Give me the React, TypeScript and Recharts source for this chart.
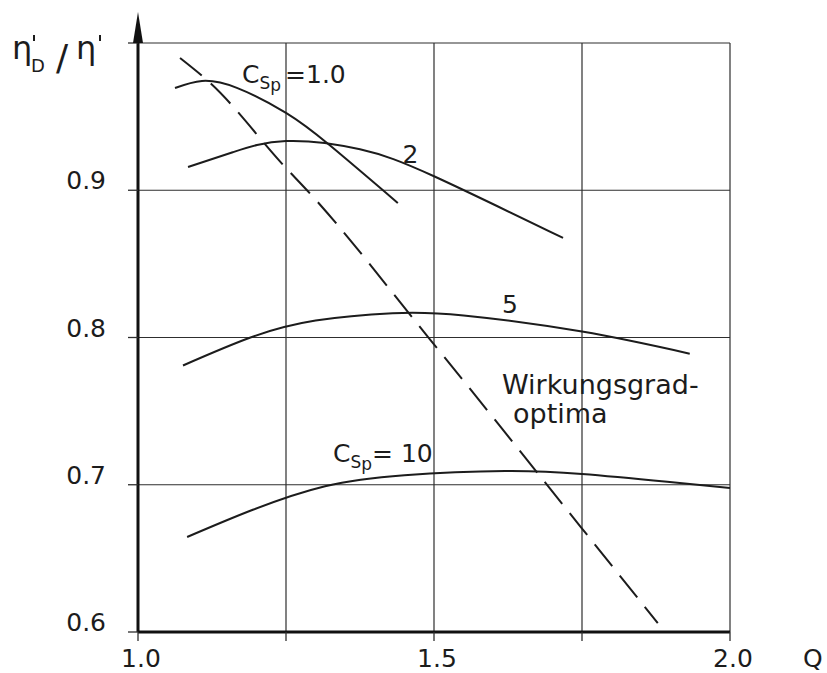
import React from 'react';
import { LineChart, Line, XAxis, YAxis, CartesianGrid, ReferenceDot } from 'recharts';

// Axis ticks
const qTicks = [1.0, 1.25, 1.5, 1.75, 2.0];
const qLabels = [1.0, 1.5, 2.0];
const etaTicks = [0.6, 0.7, 0.8, 0.9, 1.0];
const etaLabels = [0.6, 0.7, 0.8, 0.9];

// Efficiency ratio curves, one per c_Sp value
const csp1 = [
  { x: 1.0625, y: 0.9694 },
  { x: 1.108, y: 0.9742 },
  { x: 1.167, y: 0.9695 },
  { x: 1.25, y: 0.9525 },
  { x: 1.324, y: 0.9305 },
  { x: 1.439, y: 0.8913 },
];
const csp2 = [
  { x: 1.0845, y: 0.9158 },
  { x: 1.16, y: 0.9258 },
  { x: 1.25, y: 0.9334 },
  { x: 1.375, y: 0.9278 },
  { x: 1.5, y: 0.9095 },
  { x: 1.718, y: 0.8676 },
];
const csp5 = [
  { x: 1.076, y: 0.781 },
  { x: 1.19, y: 0.8 },
  { x: 1.3, y: 0.8115 },
  { x: 1.43, y: 0.8165 },
  { x: 1.55, y: 0.815 },
  { x: 1.75, y: 0.804 },
  { x: 1.932, y: 0.789 },
];
const csp10 = [
  { x: 1.083, y: 0.6645 },
  { x: 1.194, y: 0.683 },
  { x: 1.316, y: 0.699 },
  { x: 1.45, y: 0.7065 },
  { x: 1.62, y: 0.7093 },
  { x: 1.75, y: 0.7073 },
  { x: 1.894, y: 0.702 },
  { x: 2.0, y: 0.6978 },
];
// Locus of the efficiency optima (dashed)
const optima = [
  { x: 1.071, y: 0.9898 },
  { x: 1.122, y: 0.9728 },
  { x: 1.25, y: 0.9151 },
  { x: 1.2855, y: 0.9 },
  { x: 1.49, y: 0.8003 },
  { x: 1.748, y: 0.6713 },
  { x: 1.878, y: 0.6061 },
];

const FONT = 'DejaVu Sans';
const INK = '#1c1c1c';
const GRID = '#2e2e2e';

const QTick = (props: any) => {
  const { x, y, payload } = props;
  if (!qLabels.includes(payload.value)) return <g />;
  return (
    <text x={x + 3} y={y + 24} textAnchor="middle" fontFamily={FONT} fontSize={25} fill={INK}>
      {payload.value.toFixed(1)}
    </text>
  );
};

const EtaTick = (props: any) => {
  const { x, y, payload } = props;
  if (!etaLabels.includes(payload.value)) return <g />;
  return (
    <text x={x - 20} y={y - 1} textAnchor="end" fontFamily={FONT} fontSize={25} fill={INK}>
      {payload.value.toFixed(1)}
    </text>
  );
};

const EtaTitle = (props: any) => {
  const vb = props.viewBox || { x: 0, y: 43 };
  const x0 = vb.x + 12;
  const y0 = vb.y + 16;
  return (
    <g fontFamily={FONT} fill={INK}>
      <text x={x0} y={y0} fontSize={32}>η</text>
      <line x1={x0 + 22} y1={y0 - 24} x2={x0 + 22} y2={y0 - 18} stroke={INK} strokeWidth={2} />
      <text x={x0 + 19} y={y0 + 13} fontSize={18}>D</text>
      <text x={x0 + 44} y={y0 + 11} fontSize={36}>/</text>
      <text x={x0 + 64} y={y0} fontSize={32}>η</text>
      <line x1={x0 + 88} y1={y0 - 24} x2={x0 + 88} y2={y0 - 18} stroke={INK} strokeWidth={2} />
    </g>
  );
};

const cspLabel = (value: string, gap: number) => (p: any) => (
  <text x={p.cx} y={p.cy} fontFamily={FONT} fontSize={25} fill={INK}>
    C
    <tspan fontSize={17} dy={6}>S</tspan>
    <tspan fontSize={17} dy={2}>p</tspan>
    <tspan dy={-8} dx={gap}>{value}</tspan>
  </text>
);

const plainLabel = (value: string, size: number) => (p: any) => (
  <text x={p.cx} y={p.cy} fontFamily={FONT} fontSize={size} fill={INK}>
    {value}
  </text>
);

const optimaLabel = (p: any) => (
  <text x={p.cx} y={p.cy} fontFamily={FONT} fontSize={27} fill={INK}>
    <tspan x={p.cx}>Wirkungsgrad-</tspan>
    <tspan x={p.cx + 11} dy={29}>optima</tspan>
  </text>
);

const arrowHead = (p: any) => (
  <polygon points={`${p.cx},${p.cy} ${p.cx - 5},${p.cy + 31} ${p.cx + 5},${p.cy + 31}`} fill="#111" />
);

const qTitle = (p: any) => (
  <text x={p.cx} y={p.cy + 35} textAnchor="middle" fontFamily={FONT} fontSize={25} fill={INK}>
    Q
  </text>
);

export default function App() {
  const lineProps = {
    type: 'natural' as const,
    dataKey: 'y',
    stroke: INK,
    strokeWidth: 2,
    dot: false,
    activeDot: false,
    isAnimationActive: false,
  };
  return (
    <div style={{ position: 'absolute', left: 0, top: 0, width: 827, height: 673, background: '#fff' }}>
      <LineChart width={827} height={673} margin={{ top: 43, right: 97, bottom: 0, left: 0 }}>
        <CartesianGrid stroke={GRID} strokeWidth={1.2} />
        <XAxis
          type="number"
          dataKey="x"
          domain={[1, 2]}
          ticks={qTicks}
          interval={0}
          height={41}
          tickSize={9}
          axisLine={{ stroke: '#111', strokeWidth: 3 }}
          tickLine={{ stroke: GRID, strokeWidth: 1.3 }}
          tick={QTick}
          allowDataOverflow
        />
        <YAxis
          type="number"
          domain={[0.6, 1]}
          ticks={etaTicks}
          interval={0}
          width={138}
          tickSize={10}
          axisLine={{ stroke: '#111', strokeWidth: 3 }}
          tickLine={{ stroke: GRID, strokeWidth: 1.3 }}
          tick={EtaTick}
          label={{ content: EtaTitle }}
          allowDataOverflow
        />
        <Line {...lineProps} data={csp1} name="c_Sp = 1.0" />
        <Line {...lineProps} data={csp2} name="c_Sp = 2" />
        <Line {...lineProps} data={csp5} name="c_Sp = 5" />
        <Line {...lineProps} data={csp10} name="c_Sp = 10" />
        <Line {...lineProps} type="monotone" data={optima} name="Wirkungsgradoptima" strokeDasharray="28 12" />

        <ReferenceDot x={1.1757} y={0.9728} r={0} ifOverflow="visible" shape={cspLabel('=1.0', 4)} />
        <ReferenceDot x={1.3294} y={0.7155} r={0} ifOverflow="visible" shape={cspLabel('= 10', 0)} />
        <ReferenceDot x={1.4468} y={0.9185} r={0} ifOverflow="visible" shape={plainLabel('2', 25)} />
        <ReferenceDot x={1.6148} y={0.8166} r={0} ifOverflow="visible" shape={plainLabel('5', 25)} />
        <ReferenceDot x={1.6149} y={0.7615} r={0} ifOverflow="visible" shape={optimaLabel} />
        <ReferenceDot x={1.0} y={1.02105} r={0} ifOverflow="visible" shape={arrowHead} />
        <ReferenceDot x={2.14} y={0.6} r={0} ifOverflow="visible" shape={qTitle} />
      </LineChart>
    </div>
  );
}
